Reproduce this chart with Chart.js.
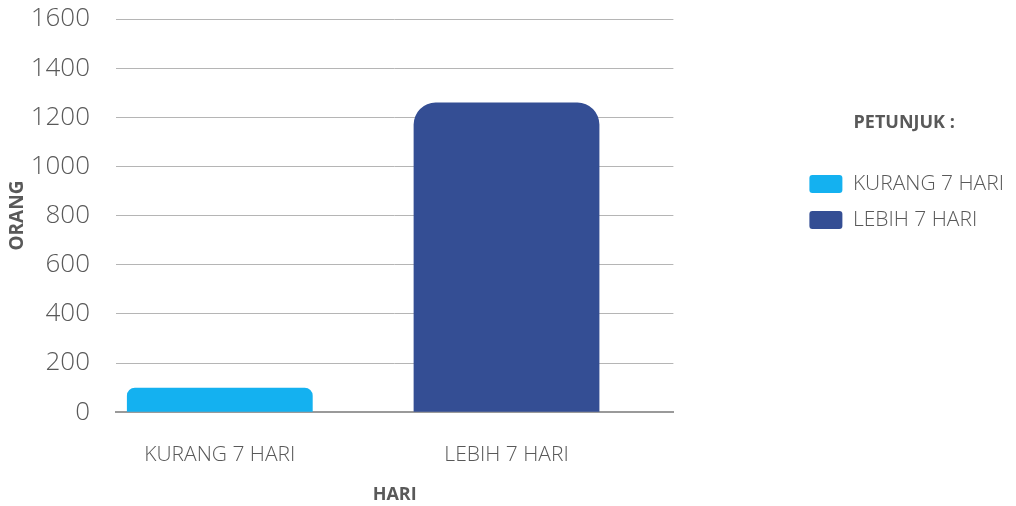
<!DOCTYPE html>
<html>
<head>
<meta charset="utf-8">
<script src="https://cdn.jsdelivr.net/npm/chart.js@4.4.1/dist/chart.umd.min.js"></script>
<style>
  html, body { margin: 0; padding: 0; background: #fff; }
  #wrap { width: 1016px; height: 506px; }
</style>
</head>
<body>
<div id="wrap"><canvas id="hariChart" width="1016" height="506"></canvas></div>
<script>
// Data
const categories = ['KURANG 7 HARI', 'LEBIH 7 HARI'];
const orang = [100, 1260];
const yMin = 0;
const yMax = 1600;
const yStep = 200;

// Styles
const colors = ['#14B1F0', '#344E94'];
const radii = [8, 22];
const textColor = '#595959';
const fontFamily = '"Open Sans", sans-serif';

document.addEventListener('DOMContentLoaded', function() {
  const datasets = categories.map(function(label, i) {
    return {
      label: label,
      data: [{ x: i, y: orang[i] }],
      backgroundColor: colors[i],
      borderRadius: radii[i],
      borderSkipped: 'start',
      grouped: false,
      barPercentage: 0.648,
      categoryPercentage: 1
    };
  });

  const ctx = document.getElementById('hariChart').getContext('2d');
  new Chart(ctx, {
    type: 'bar',
    data: { datasets: datasets },
    options: {
      responsive: false,
      animation: false,
      layout: { padding: { top: 19, right: 2, left: 6, bottom: 0 } },
      scales: {
        x: {
          type: 'linear',
          offset: false,
          min: -0.362,
          max: 1.582,
          grid: { display: false, tickLength: 28 },
          border: { display: true, color: '#9a9a9a', width: 2 },
          afterBuildTicks: function(scale) {
            // one tick per category, at 0, 1, ...
            scale.ticks = categories.map(function(c, i) { return { value: i }; });
          },
          ticks: {
            padding: 2,
            color: textColor,
            font: { family: fontFamily, size: 21, weight: 300 },
            callback: function(value) { return categories[value]; }
          },
          title: {
            display: true,
            text: 'HARI',
            color: textColor,
            font: { family: fontFamily, size: 18, weight: 'bold' },
            padding: { top: 15, bottom: 0 }
          }
        },
        y: {
          min: yMin,
          max: yMax,
          afterFit: function(scale) { scale.width = 110; },
          grid: { color: '#b5b5b5', lineWidth: 1, drawTicks: true, tickLength: 24, tickColor: 'rgba(0,0,0,0)' },
          border: { display: false },
          ticks: {
            stepSize: yStep,
            padding: 2,
            color: textColor,
            font: { family: fontFamily, size: 26, weight: 300 },
            callback: function(value) { return String(value); }
          },
          title: {
            display: true,
            text: 'ORANG',
            color: textColor,
            font: { family: fontFamily, size: 19, weight: 'bold' },
            padding: 0
          }
        },
        // empty spacer between plot and legend
        yPad: {
          position: 'right',
          display: true,
          grid: { display: false },
          border: { display: false },
          ticks: { display: false },
          afterFit: function(scale) { scale.width = 121; }
        }
      },
      plugins: {
        tooltip: { enabled: false },
        legend: {
          position: 'right',
          align: 'start',
          maxWidth: 260,
          title: {
            display: true,
            text: 'PETUNJUK :',
            color: textColor,
            font: { family: fontFamily, size: 18, weight: 'bold' },
            padding: { top: 95, bottom: 23 }
          },
          labels: {
            color: textColor,
            font: { family: fontFamily, size: 21, weight: 300 },
            boxWidth: 33,
            boxHeight: 18,
            padding: 15,
            useBorderRadius: true,
            borderRadius: 3
          }
        }
      }
    }
  });
});
</script>
</body>
</html>
